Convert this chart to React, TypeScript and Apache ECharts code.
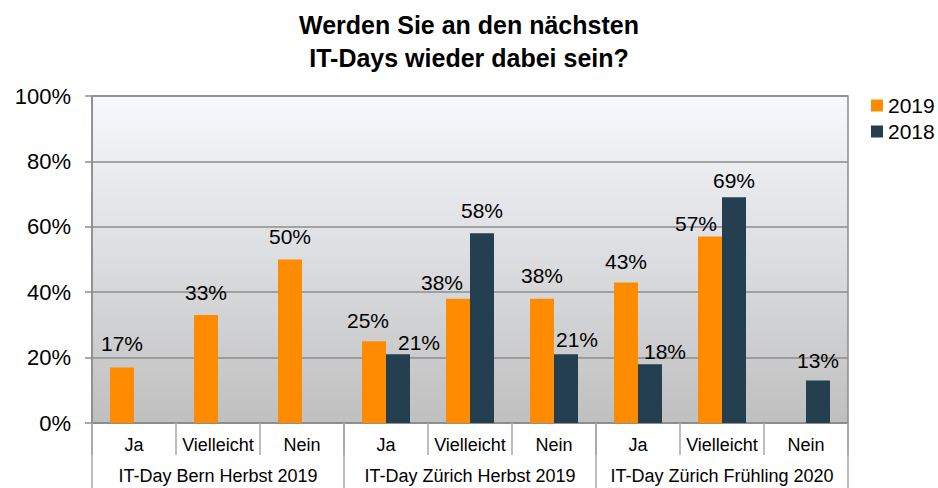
import React, { useEffect, useRef } from "react";
import * as echarts from "echarts";

const TITLE = "Werden Sie an den nächsten\nIT-Days wieder dabei sein?";
const answers = ["Ja", "Vielleicht", "Nein"];
const events = ["IT-Day Bern Herbst 2019", "IT-Day Zürich Herbst 2019", "IT-Day Zürich Frühling 2020"];
const categories = events.flatMap(() => answers);
const seriesNames = ["2019", "2018"];
const values2019 = [17, 33, 50, 25, 38, 38, 43, 57, null];
const values2018 = [null, null, null, 21, 58, 21, 18, 69, 13];

// label layout tweaks: [dx from bar centre, height of label centre above bar top]
const labelLayout2019 = [[0, 24], [0, 23], [0, 23], [-6, 21], [-16, 16], [0, 23], [0, 21], [-14, 13], [0, 20]];
const labelLayout2018 = [[0, 20], [0, 20], [0, 20], [21, 12], [0, 23], [11, 15], [15, 13], [0, 17], [0, 20]];

const FONT = "'Liberation Sans', Arial, Helvetica, sans-serif";
const BAR_W = 24;
const COLORS = ["#FF8C00", "#233F50"];

function buildData(values: (number | null)[], layout: number[][]) {
  return values.map((v, i) => {
    if (v === null) return { value: null };
    const [dx, up] = layout[i];
    return {
      value: v,
      label: { position: [BAR_W / 2 + dx, -up] },
    };
  });
}

export default function App() {
  const ref = useRef<HTMLDivElement>(null);
  useEffect(() => {
    if (!ref.current) return;
    const chart = echarts.init(ref.current, undefined, { renderer: "svg" });
    const gridLine = "#8c8c8c";
    const sepLine = "#a6a6a6";
    const labelCommon = {
      show: true,
      formatter: "{c}%",
      fontSize: 21,
      fontFamily: FONT,
      color: "#000",
      align: "center",
      verticalAlign: "middle",
    };
    chart.setOption({
      animation: false,
      backgroundColor: "#fff",
      textStyle: { fontFamily: FONT },
      title: {
        text: TITLE,
        left: "center",
        top: 3,
        textStyle: { fontSize: 25, fontWeight: "bold", lineHeight: 33, color: "#000", fontFamily: FONT },
      },
      legend: {
        orient: "vertical",
        left: 866,
        top: 90,
        itemWidth: 12,
        itemHeight: 12,
        itemGap: 5,
        icon: "rect",
        data: seriesNames,
        textStyle: { fontSize: 21, color: "#000", fontFamily: FONT },
      },
      grid: {
        left: 92,
        right: 90,
        top: 96,
        bottom: 65,
        show: true,
        borderColor: gridLine,
        borderWidth: 1.5,
        backgroundColor: new echarts.graphic.LinearGradient(0, 0, 0, 1, [
          { offset: 0, color: "#f5f8fc" },
          { offset: 0.5, color: "#dcdde0" },
          { offset: 1, color: "#bfbfbf" },
        ]),
      },
      xAxis: [
        {
          type: "category",
          data: categories,
          position: "bottom",
          axisLine: { show: true, lineStyle: { color: gridLine, width: 1.5 } },
          axisTick: { show: true, interval: 0, length: 32, lineStyle: { color: sepLine, width: 1.5 } },
          axisLabel: { interval: 0, fontSize: 18, margin: 13, color: "#000", fontFamily: FONT },
          splitLine: { show: false },
        },
        {
          type: "category",
          data: events,
          position: "bottom",
          axisLine: { show: false },
          axisTick: { show: true, interval: 0, length: 66, lineStyle: { color: sepLine, width: 1.5 } },
          axisLabel: { interval: 0, fontSize: 18, margin: 44, color: "#000", fontFamily: FONT },
          splitLine: { show: false },
        },
      ],
      yAxis: {
        type: "value",
        min: 0,
        max: 100,
        interval: 20,
        axisLabel: { formatter: "{value}%", fontSize: 22, margin: 21, color: "#000", fontFamily: FONT },
        axisLine: { show: true, lineStyle: { color: gridLine, width: 1.5 } },
        axisTick: { show: true, length: 7, lineStyle: { color: gridLine, width: 1.5 } },
        splitLine: { show: true, lineStyle: { color: gridLine, width: 1.5 } },
      },
      series: [
        {
          name: seriesNames[0],
          type: "bar",
          xAxisIndex: 0,
          barWidth: BAR_W,
          barGap: "0%",
          itemStyle: { color: COLORS[0] },
          label: labelCommon,
          data: buildData(values2019, labelLayout2019),
        },
        {
          name: seriesNames[1],
          type: "bar",
          xAxisIndex: 0,
          barWidth: BAR_W,
          barGap: "0%",
          itemStyle: { color: COLORS[1] },
          label: labelCommon,
          data: buildData(values2018, labelLayout2018),
        },
      ],
    });
    return () => chart.dispose();
  }, []);
  return (
    <div
      ref={ref}
      style={{ position: "fixed", left: 0, top: 0, width: 938, height: 488 }}
    />
  );
}
